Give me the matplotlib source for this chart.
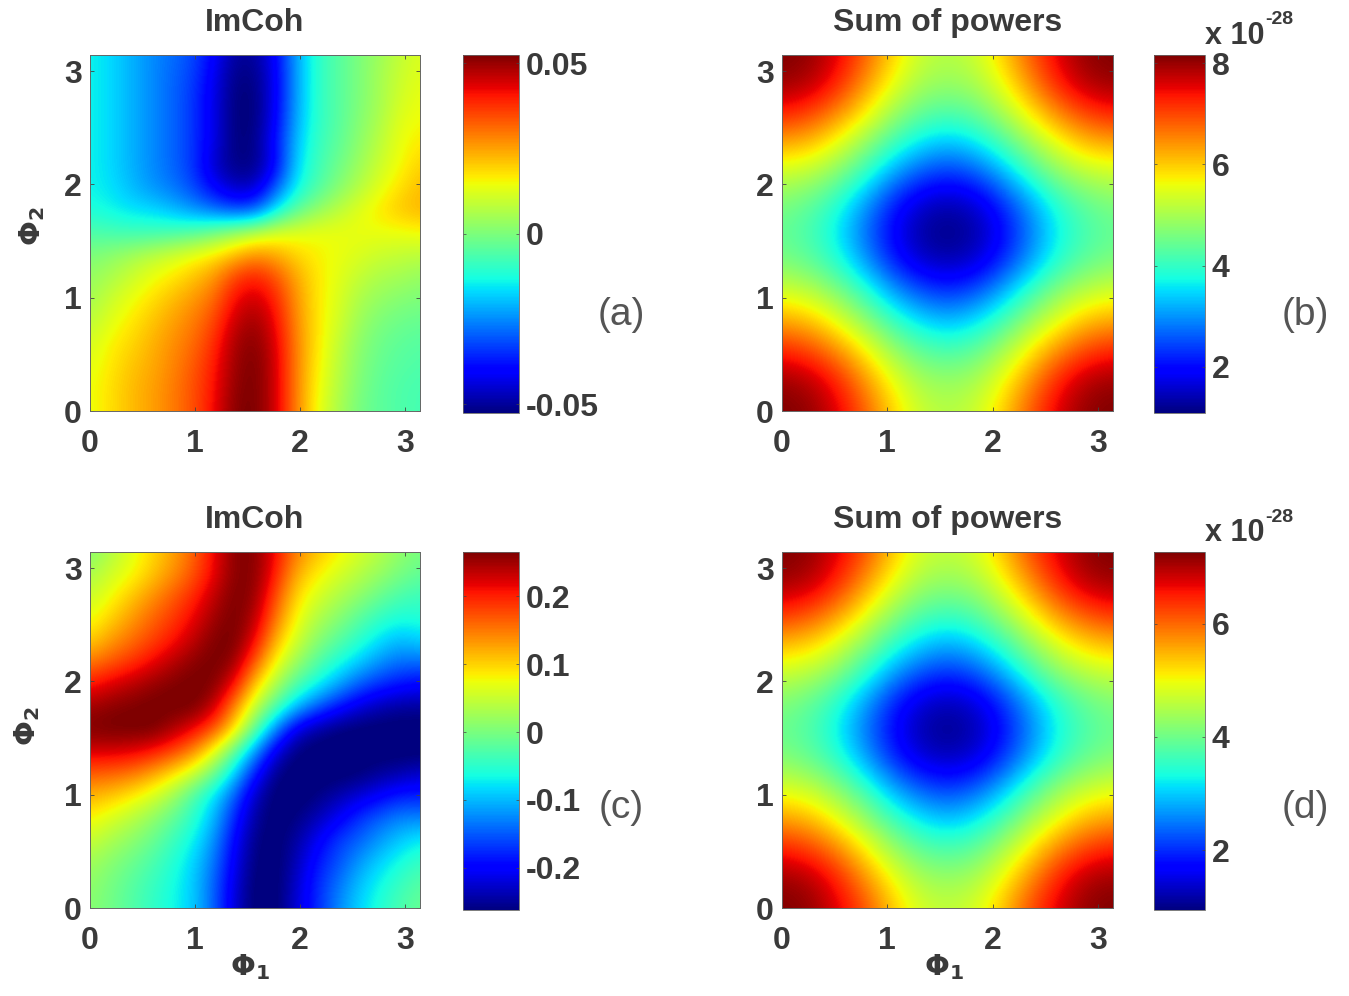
import matplotlib

matplotlib.use("Agg")
import matplotlib.pyplot as plt
import numpy as np

plt.rcParams["font.family"] = ["Liberation Sans", "DejaVu Sans"]
plt.rcParams["mathtext.fontset"] = "dejavusans"

W, H = 1349, 996
TEXT = "#3a3a3a"
TICKS = [0, 1, 2, 3]

# rows run from Phi2 = pi (top) down to Phi2 = 0, columns Phi1 = 0 .. pi
IMCOH_A = [
    [-.014, -.017, -.021, -.025, -.028, -.032, -.040, -.050, -.050, -.040, -.022, -.010, -.005, .000, .004, .009, .012],
    [-.014, -.017, -.021, -.025, -.029, -.033, -.042, -.052, -.052, -.041, -.022, -.010, -.005, .000, .005, .010, .013],
    [-.014, -.017, -.021, -.025, -.029, -.034, -.043, -.053, -.053, -.041, -.022, -.010, -.005, .000, .005, .011, .014],
    [-.014, -.017, -.021, -.025, -.029, -.034, -.043, -.053, -.053, -.040, -.021, -.010, -.005, .001, .006, .013, .015],
    [-.014, -.017, -.021, -.025, -.029, -.034, -.043, -.053, -.052, -.038, -.019, -.009, -.004, .002, .008, .014, .017],
    [-.014, -.017, -.021, -.025, -.029, -.034, -.046, -.052, -.052, -.040, -.017, -.008, -.002, .004, .010, .015, .020],
    [-.014, -.016, -.020, -.024, -.027, -.032, -.040, -.047, -.046, -.030, -.014, -.006, .001, .007, .013, .018, .022],
    [-.012, -.014, -.016, -.017, -.020, -.024, -.028, -.032, -.030, -.015, -.004, .003, .008, .013, .017, .021, .023],
    [-.006, -.007, -.008, -.008, -.007, -.005, -.001, .004, .008, .012, .013, .014, .014, .014, .014, .014, .015],
    [.000, .002, .005, .008, .011, .014, .017, .022, .027, .024, .019, .016, .014, .012, .010, .009, .008],
    [.003, .006, .010, .014, .017, .021, .026, .036, .040, .034, .024, .017, .013, .009, .006, .005, .003],
    [.005, .010, .014, .018, .022, .026, .031, .042, .046, .039, .026, .017, .012, .006, .003, .001, .000],
    [.008, .013, .017, .021, .025, .029, .035, .046, .050, .042, .027, .017, .011, .004, .000, -.002, -.003],
    [.011, .016, .019, .023, .027, .031, .038, .049, .052, .044, .028, .017, .009, .002, -.002, -.004, -.005],
    [.013, .017, .021, .024, .028, .033, .040, .050, .053, .045, .028, .016, .008, .001, -.003, -.005, -.006],
    [.014, .018, .022, .025, .029, .034, .041, .051, .053, .045, .028, .015, .007, .000, -.004, -.006, -.007],
    [.014, .018, .022, .025, .029, .034, .042, .052, .053, .045, .028, .014, .006, -.001, -.004, -.006, -.007],
]
POWER_B = [
    [8.16, 8.05, 7.60, 6.85, 5.95, 5.30, 5.10, 5.30, 5.95, 6.85, 7.60, 8.05, 8.16],
    [8.00, 7.85, 7.30, 6.45, 5.60, 5.00, 4.85, 5.00, 5.60, 6.45, 7.30, 7.85, 8.00],
    [7.30, 7.05, 6.50, 5.75, 4.95, 4.40, 4.20, 4.40, 5.00, 5.75, 6.50, 7.05, 7.30],
    [6.25, 6.10, 5.55, 4.85, 4.10, 3.55, 3.30, 3.55, 4.15, 4.90, 5.55, 6.10, 6.25],
    [5.30, 5.15, 4.70, 4.00, 3.15, 2.55, 2.30, 2.55, 3.20, 4.05, 4.75, 5.15, 5.30],
    [4.65, 4.40, 3.90, 3.10, 2.20, 1.60, 1.40, 1.60, 2.25, 3.10, 3.90, 4.40, 4.65],
    [4.40, 4.15, 3.60, 2.75, 1.90, 1.30, 1.10, 1.30, 1.90, 2.80, 3.65, 4.15, 4.40],
    [4.65, 4.40, 3.90, 3.10, 2.20, 1.60, 1.40, 1.60, 2.25, 3.10, 3.90, 4.40, 4.65],
    [5.40, 5.20, 4.70, 4.00, 3.15, 2.55, 2.30, 2.55, 3.20, 4.05, 4.75, 5.20, 5.40],
    [6.30, 6.10, 5.55, 4.85, 4.10, 3.55, 3.30, 3.55, 4.15, 4.90, 5.55, 6.10, 6.30],
    [7.30, 7.05, 6.50, 5.75, 4.95, 4.40, 4.20, 4.40, 5.00, 5.75, 6.50, 7.05, 7.30],
    [8.00, 7.85, 7.30, 6.45, 5.60, 5.00, 4.85, 5.00, 5.60, 6.45, 7.30, 7.85, 8.00],
    [8.16, 8.05, 7.60, 6.85, 5.95, 5.30, 5.10, 5.30, 5.95, 6.85, 7.60, 8.05, 8.16],
]
IMCOH_C = [
    [.005, .035, .065, .095, .125, .16, .215, .262, .262, .21, .145, .11, .085, .06, .04, .015, .00],
    [.03, .055, .075, .105, .135, .17, .215, .262, .262, .20, .12, .085, .06, .04, .02, .00, -.015],
    [.05, .075, .105, .135, .165, .195, .235, .268, .255, .175, .095, .06, .035, .015, -.01, -.03, -.04],
    [.07, .10, .13, .16, .185, .215, .25, .27, .24, .15, .075, .035, .01, -.02, -.045, -.06, -.055],
    [.10, .13, .155, .18, .205, .235, .265, .27, .215, .115, .055, .01, -.02, -.05, -.08, -.10, -.085],
    [.15, .17, .19, .215, .24, .26, .27, .255, .165, .075, .02, -.025, -.06, -.09, -.12, -.14, -.14],
    [.205, .225, .24, .255, .265, .27, .265, .21, .10, .03, -.03, -.07, -.11, -.15, -.175, -.19, -.20],
    [.25, .26, .265, .27, .27, .27, .235, .14, .045, -.03, -.10, -.15, -.19, -.22, -.24, -.25, -.25],
    [.265, .27, .27, .27, .245, .215, .17, .09, -.02, -.13, -.22, -.25, -.265, -.27, -.27, -.27, -.27],
    [.225, .225, .22, .205, .18, .14, .07, -.02, -.12, -.22, -.265, -.27, -.27, -.27, -.27, -.27, -.27],
    [.165, .16, .15, .125, .09, .05, -.01, -.09, -.19, -.26, -.27, -.27, -.27, -.265, -.25, -.24, -.225],
    [.115, .105, .085, .06, .025, -.03, -.08, -.15, -.235, -.27, -.27, -.26, -.24, -.22, -.20, -.18, -.18],
    [.08, .06, .04, .015, -.015, -.05, -.10, -.18, -.25, -.27, -.26, -.235, -.205, -.17, -.145, -.125, -.125],
    [.05, .03, .012, -.01, -.04, -.07, -.12, -.20, -.26, -.27, -.245, -.205, -.165, -.145, -.115, -.09, -.07],
    [.025, .008, -.01, -.03, -.055, -.085, -.135, -.21, -.265, -.27, -.235, -.185, -.155, -.115, -.085, -.06, -.04],
    [.015, -.003, -.022, -.042, -.063, -.09, -.145, -.22, -.27, -.27, -.225, -.175, -.135, -.095, -.065, -.04, -.02],
    [.01, -.005, -.025, -.045, -.065, -.09, -.145, -.225, -.27, -.27, -.22, -.175, -.125, -.085, -.055, -.03, -.01],
]
POWER_D = [
    [7.27, 7.17, 6.77, 6.20, 5.38, 4.80, 4.62, 4.80, 5.38, 6.20, 6.77, 7.17, 7.27],
    [7.12, 7.00, 6.50, 5.75, 5.00, 4.45, 4.31, 4.45, 5.00, 5.75, 6.50, 7.00, 7.12],
    [6.50, 6.28, 5.80, 5.10, 4.37, 3.88, 3.70, 3.88, 4.42, 5.10, 5.80, 6.28, 6.50],
    [5.57, 5.39, 4.95, 4.31, 3.64, 3.15, 2.92, 3.15, 3.69, 4.36, 4.95, 5.39, 5.57],
    [4.77, 4.63, 4.23, 3.60, 2.84, 2.31, 2.08, 2.31, 2.89, 3.65, 4.28, 4.63, 4.77],
    [4.18, 3.95, 3.50, 2.80, 2.00, 1.46, 1.28, 1.46, 2.04, 2.80, 3.50, 3.95, 4.18],
    [3.95, 3.73, 3.24, 2.48, 1.73, 1.19, 1.00, 1.19, 1.73, 2.52, 3.28, 3.73, 3.95],
    [4.18, 3.95, 3.50, 2.80, 2.00, 1.46, 1.28, 1.46, 2.04, 2.80, 3.50, 3.95, 4.18],
    [4.85, 4.68, 4.23, 3.60, 2.84, 2.31, 2.08, 2.31, 2.89, 3.65, 4.28, 4.68, 4.85],
    [5.62, 5.44, 4.95, 4.31, 3.64, 3.15, 2.92, 3.15, 3.69, 4.36, 4.95, 5.44, 5.62],
    [6.50, 6.28, 5.80, 5.10, 4.37, 3.88, 3.70, 3.88, 4.42, 5.10, 5.80, 6.28, 6.50],
    [7.12, 7.00, 6.50, 5.75, 5.00, 4.45, 4.31, 4.45, 5.00, 5.75, 6.50, 7.00, 7.12],
    [7.27, 7.17, 6.77, 6.20, 5.38, 4.80, 4.62, 4.80, 5.38, 6.20, 6.77, 7.17, 7.27],
]

LIMITS_A = (-.0526, .0524)
LIMITS_B = (1.09, 8.16)
LIMITS_C = (-.262, .265)
LIMITS_D = (.94, 7.27)
CB_TICKS_A = [-.05, 0, .05]
CB_LABELS_A = ["-0.05", "0", "0.05"]
CB_TICKS_B = [2, 4, 6, 8]
CB_LABELS_B = ["2", "4", "6", "8"]
CB_TICKS_C = [-.2, -.1, 0, .1, .2]
CB_LABELS_C = ["-0.2", "-0.1", "0", "0.1", "0.2"]
CB_TICKS_D = [2, 4, 6]
CB_LABELS_D = ["2", "4", "6"]


def box(fig, x0, y0, x1, y1):
    return fig.add_axes([x0 / W, 1 - y1 / H, (x1 - x0) / W, (y1 - y0) / H])


def panel(fig, rect, cb_rect, grid, limits, title, cb_ticks, cb_labels, tag, tag_x, tag_y):
    ax = box(fig, *rect)
    grid = np.array(grid)
    h = np.pi / (grid.shape[0] - 1) / 2
    im = ax.imshow(grid, extent=[-h, np.pi + h, -h, np.pi + h], aspect="auto",
                   cmap="jet", vmin=limits[0], vmax=limits[1],
                   interpolation="bicubic", interpolation_stage="data")
    ax.set_xlim(0, np.pi)
    ax.set_ylim(0, np.pi)
    ax.set_xticks(TICKS)
    ax.set_yticks(TICKS)
    ax.tick_params(direction="in", top=True, right=True, length=3, width=.6, color="#444444",
                   labelsize=23, labelcolor=TEXT, pad=6)
    ax.tick_params(axis="x", pad=13)
    for label in ax.get_xticklabels() + ax.get_yticklabels():
        label.set_fontweight("bold")
    for s in ax.spines.values():
        s.set_linewidth(.7)
        s.set_color("#666666")
    ax.set_title(title, fontsize=23, fontweight="bold", color=TEXT, pad=17)

    cax = box(fig, *cb_rect)
    cb = fig.colorbar(im, cax=cax)
    cb.set_ticks(cb_ticks, labels=cb_labels)
    cb.ax.tick_params(direction="in", left=True, right=True, length=2, width=.5, color="#444444",
                      labelsize=23, labelcolor=TEXT, pad=5)
    for label in cb.ax.get_yticklabels():
        label.set_fontweight("bold")
    cb.outline.set_linewidth(.6)
    cb.outline.set_edgecolor("#666666")
    fig.text(tag_x / W, 1 - tag_y / H, tag, fontsize=28, color="#555555", ha="center", va="center")
    return ax


def main():
    fig = plt.figure(figsize=(W / 100, H / 100), dpi=100, facecolor="white")

    ax_a = panel(fig, (90, 55, 420, 411), (463, 55, 519, 413), IMCOH_A, LIMITS_A, "ImCoh",
                 CB_TICKS_A, CB_LABELS_A, "(a)", 621, 315)
    panel(fig, (782, 55, 1113, 411), (1154, 55, 1205, 413), POWER_B, LIMITS_B, "Sum of powers",
          CB_TICKS_B, CB_LABELS_B, "(b)", 1305, 315)
    ax_c = panel(fig, (90, 552, 420, 908), (463, 552, 519, 910), IMCOH_C, LIMITS_C, "ImCoh",
                 CB_TICKS_C, CB_LABELS_C, "(c)", 621, 808)
    ax_d = panel(fig, (782, 552, 1113, 908), (1154, 552, 1205, 910), POWER_D, LIMITS_D, "Sum of powers",
                 CB_TICKS_D, CB_LABELS_D, "(d)", 1305, 808)

    phi1 = r"$\mathbf{\Phi_1}$"
    phi2 = r"$\mathbf{\Phi_2}$"
    ax_a.set_ylabel(phi2, fontsize=21, color=TEXT)
    ax_a.yaxis.set_label_coords(-.13, .52)
    ax_c.set_ylabel(phi2, fontsize=21, color=TEXT)
    ax_c.yaxis.set_label_coords(-.145, .51)
    ax_c.set_xlabel(phi1, fontsize=21, color=TEXT)
    ax_c.xaxis.set_label_coords(.485, -.125)
    ax_d.set_xlabel(phi1, fontsize=21, color=TEXT)
    ax_d.xaxis.set_label_coords(.49, -.125)

    for y in (36, 533):
        fig.text(1205 / W, 1 - y / H, "x 10", fontsize=22, fontweight="bold", color=TEXT, va="center")
        fig.text(1265 / W, 1 - (y - 16) / H, "-28", fontsize=14, fontweight="bold", color=TEXT, va="center")

    fig.savefig("out.png", dpi=100)


if __name__ == "__main__":
    main()
